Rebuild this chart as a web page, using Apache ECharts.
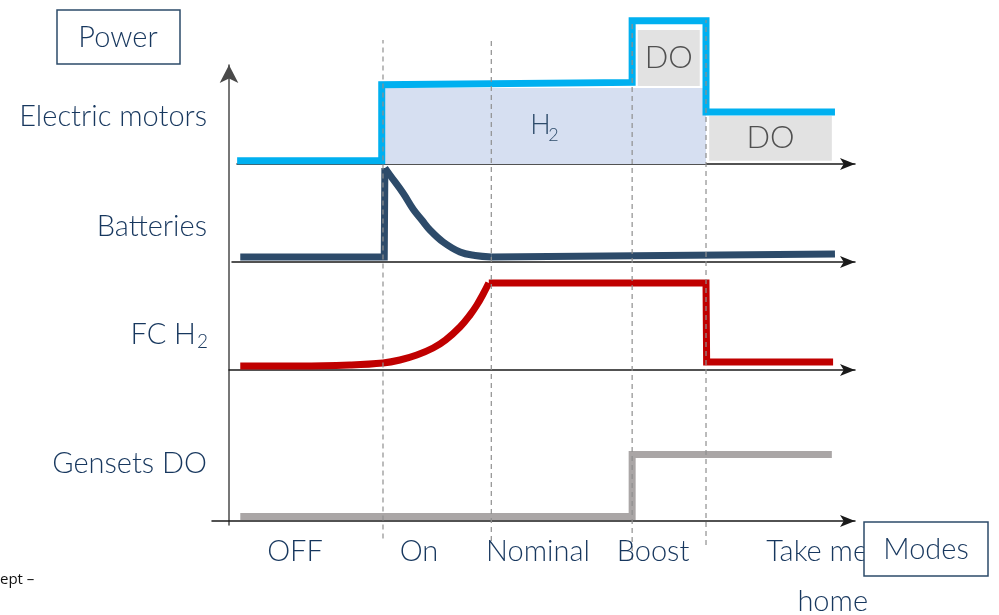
<!DOCTYPE html>
<html><head><meta charset="utf-8">
<script src="https://cdn.jsdelivr.net/npm/echarts@6/dist/echarts.min.js"></script>
<style>html,body{margin:0;padding:0;background:#fff}#c{width:999px;height:615px}</style>
</head><body><div id="c"></div><script>
// ---------- data (time axis t, power levels per trace) ----------
const modes = ['OFF', 'On', 'Nominal', 'Boost', 'Take me\nhome'];
const modeBoundaries = [24.6, 41.9, 64.4, 76.2];
const boundaryTop = [0.963, 0.963, 1, 1];
const boundaryBottom = [0.04, 0.035, 0, 0.028];
const traceNames = ['Electric motors', 'Batteries', 'FC H', 'Gensets DO'];
const electricMotors = [[1.3,0.04],[24.4,0.04],[24.4,0.99],[64.4,1.02],[64.4,1.79],[76.2,1.79],[76.2,0.65],[96.8,0.65]];
const h2Block = [24.9, 76.2, 0, 0.95];      // t0, t1, v0, v1
const doBoostBlock = [65.3, 75.2, 0.975, 1.675];
const doHomeBlock = [76.7, 96.3, 0.04, 0.6];
const batteries = [[1.8,0.05],[24.8,0.05],[24.9,0.94],[25.7,0.87],[27.8,0.69],[29.4,0.53],[30.8,0.42],[32.1,0.32],[34.2,0.20],[36.9,0.10],[39.3,0.065],[41.9,0.05],[96.8,0.08]];
const fcH2 = [[1.8,0.04],[11.3,0.04],[19.3,0.05],[24.6,0.07],[27.3,0.10],[30.0,0.15],[32.6,0.22],[34.6,0.30],[36.9,0.43],[38.5,0.55],[39.6,0.65],[40.6,0.76],[41.5,0.87],[76.2,0.87],[76.3,0.08],[96.5,0.08]];
const gensetsDO = [[1.8,0.045],[64.4,0.045],[64.4,0.665],[96.3,0.665]];

// ---------- layout / style ----------
const T_MAX = 100;
const F = 'Lato, "Open Sans", sans-serif';
const W = '300 ';
const NAVY = '#17375e';
const chart = echarts.init(document.getElementById('c'));

const grids = [
  {left:229, right:144, top:65, bottom:90},   // 0 vertical power axis
  {left:229, right:144, top:20, bottom:55},   // 1 mode boundaries
  {left:237, right:144, top:4, bottom:451},   // 2 electric motors
  {left:232, right:144, top:162, bottom:353}, // 3 batteries
  {left:229, right:144, top:270, bottom:245}, // 4 FC H2
  {left:212, right:144, top:421, bottom:94}   // 5 gensets
];
const xMins = [0, 0, 1.28, 0.48, 0, -2.72];
const yMaxs = [1, 1, 2, 1, 1, 1];

const xAxes = grids.map((g, i) => ({
  gridIndex: i, type: 'value', min: xMins[i], max: T_MAX,
  axisLine: {show: i >= 2, symbol: ['none', 'arrow'], symbolSize: [9, 15], lineStyle: {color: '#1a1a1a', width: 1.5}},
  axisTick: {show: false}, axisLabel: {show: false}, splitLine: {show: false}
}));
const yAxes = grids.map((g, i) => ({
  gridIndex: i, type: 'value', min: 0, max: yMaxs[i],
  axisLine: {show: i === 0, symbol: ['none', 'arrow'], symbolSize: [14, 18], lineStyle: {color: '#4a4a4a', width: 1.5}},
  axisTick: {show: false}, axisLabel: {show: false}, splitLine: {show: false}
}));

function lineSeries(idx, data, color, width, z, smooth) {
  return {type: 'line', xAxisIndex: idx, yAxisIndex: idx, data, symbol: 'none', clip: false, z, smooth: smooth || false,
    lineStyle: {color, width, cap: 'butt', join: 'miter'}, silent: true, animation: false};
}
function blockSeries(idx, block, fill, z, label, size, color, sub) {
  return {type: 'custom', xAxisIndex: idx, yAxisIndex: idx, z, clip: false, silent: true, animation: false,
    encode: {x: [0, 1], y: [2, 3]}, data: [block],
    renderItem(params, api) {
      const a = api.coord([api.value(0), api.value(3)]);
      const b = api.coord([api.value(1), api.value(2)]);
      const cx = (a[0] + b[0]) / 2, cy = (a[1] + b[1]) / 2;
      const ch = [{type: 'rect', shape: {x: a[0], y: a[1], width: b[0] - a[0], height: b[1] - a[1]}, style: {fill}}];
      if (sub) {
        ch.push({type: 'text', x: cx - 5, y: cy - 1, style: {text: label, font: W + size + 'px ' + F, fill: color, align: 'center', verticalAlign: 'middle'}});
        ch.push({type: 'text', x: cx + 8, y: cy + 9, style: {text: sub, font: W + Math.round(size * 0.65) + 'px ' + F, fill: color, align: 'center', verticalAlign: 'middle'}});
      } else {
        ch.push({type: 'text', x: cx, y: cy, style: {text: label, font: W + size + 'px ' + F, fill: color, align: 'center', verticalAlign: 'middle'}});
      }
      return {type: 'group', children: ch};
    }};
}

const series = [
  blockSeries(2, doBoostBlock, '#e2e2e2', 1, 'DO', 31, '#505050'),
  blockSeries(2, doHomeBlock, '#e2e2e2', 1, 'DO', 31, '#505050'),
  blockSeries(2, h2Block, '#d6dff1', 2, 'H', 27, '#2d4b6a', '2'),
  lineSeries(2, electricMotors, '#00b0f0', 7, 5),
  lineSeries(3, batteries.slice(0, 3), '#2d4b6a', 7, 5),
  lineSeries(3, batteries.slice(2, 12), '#2d4b6a', 7, 5, 0.4),
  lineSeries(3, batteries.slice(11), '#2d4b6a', 7, 5),
  lineSeries(4, fcH2.slice(0, 13), '#c00000', 7, 5, 0.4),
  lineSeries(4, fcH2.slice(12), '#c00000', 7, 5),
  lineSeries(5, gensetsDO, '#aaa6a6', 7, 5)
];
modeBoundaries.forEach((b, i) => {
  series.push({type: 'line', xAxisIndex: 1, yAxisIndex: 1, symbol: 'none', clip: false, z: 20, silent: true, animation: false,
    data: [[b, boundaryBottom[i]], [b, boundaryTop[i]]],
    lineStyle: {color: '#8f8f8f', width: 1.2, type: [5, 4]}});
});

const txt = (x, y, text, size, align, color, extra) => ({type: 'text', x, y, z: 30,
  style: Object.assign({text, font: W + size + 'px ' + F, fill: color || NAVY, align, verticalAlign: 'middle'}, extra || {})});

const labelX = [207, 207, 196, 207];
const labelY = [117, 227, 335, 464];
const modeX = [295, 419, 538, 653, 868];
const graphic = [
  {type: 'rect', shape: {x: 57, y: 10, width: 123, height: 54}, style: {fill: 'none', stroke: '#2d4b6a', lineWidth: 1.5}},
  txt(118, 38, 'Power', 29, 'center'),
  {type: 'rect', shape: {x: 864, y: 522, width: 124, height: 54}, style: {fill: '#fff', stroke: '#2d4b6a', lineWidth: 1.5}, z: 40},
  txt(926, 550, 'Modes', 29, 'center', NAVY, {}),
  txt(207 - 10, 342, '2', 19, 'left'),
  {type: 'text', x: 0, y: 580, style: {text: 'ept –', font: '15px "Open Sans", sans-serif', fill: '#111', align: 'left', verticalAlign: 'middle'}}
];
traceNames.forEach((n, i) => graphic.push(txt(labelX[i], labelY[i], n, 29, 'right')));
modes.forEach((m, i) => {
  if (m.indexOf('\n') >= 0) graphic.push(txt(modeX[i], 577, m, 29, 'right', NAVY, {lineHeight: 50}));
  else graphic.push(txt(modeX[i], 552, m, 29, 'center'));
});
graphic.forEach(g => { if (g.z === undefined) g.z = 30; });
graphic[2].z = 40; graphic[3].z = 41;

chart.setOption({animation: false, grid: grids, xAxis: xAxes, yAxis: yAxes, series, graphic});
</script></body></html>
